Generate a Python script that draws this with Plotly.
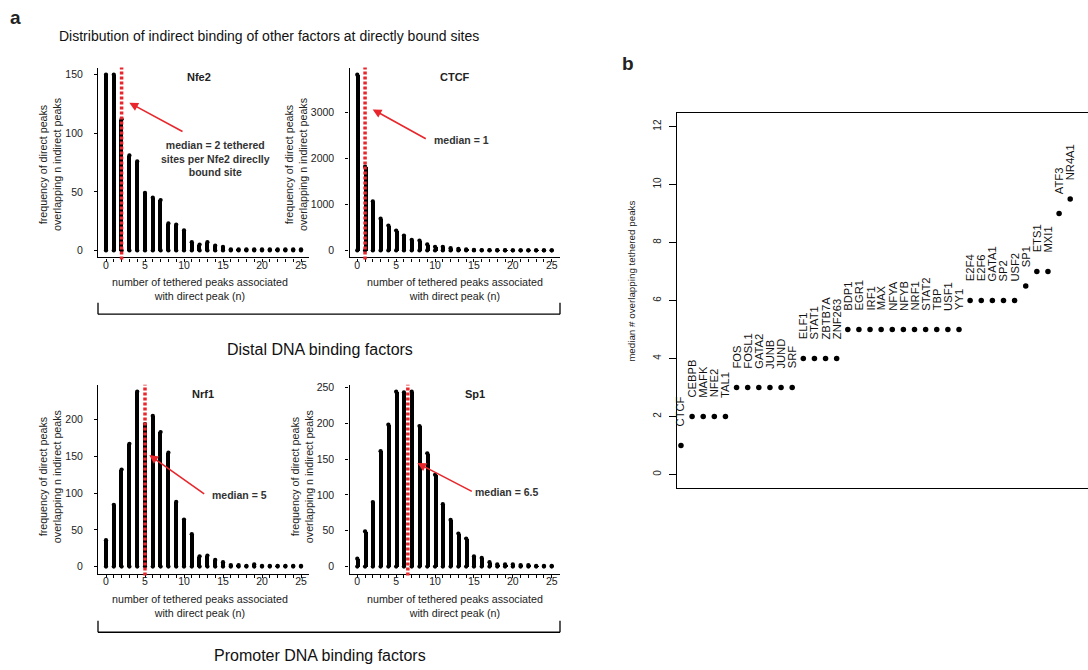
import plotly.graph_objects as go

W, H = 1088, 670
FONT = "Liberation Sans, Arial, Helvetica, sans-serif"
RED = "#e8262b"

# ---------------- data ----------------
n_tethered = list(range(26))
nfe2_freq = [150, 150, 112, 81, 76, 49, 45, 43, 23, 22, 17, 7, 5, 7, 4, 3, 1, 1, 1, 1, 1, 1, 1, 1, 1, 1]
ctcf_freq = [3830, 1825, 1067, 692, 541, 433, 325, 231, 216, 130, 79, 79, 50, 36, 22, 12, 8, 6, 5, 4, 3, 3, 2, 2, 2, 2]
nrf1_freq = [36, 84, 132, 167, 238, 194, 205, 183, 155, 88, 64, 44, 14, 15, 9, 6, 2, 2, 1, 3, 1, 1, 1, 1, 1, 1]
sp1_freq = [11, 49, 90, 161, 198, 244, 243, 244, 196, 158, 128, 87, 65, 46, 39, 14, 12, 6, 3, 3, 3, 2, 2, 1, 1, 1]
panel_names = ["Nfe2", "CTCF", "Nrf1", "Sp1"]
panel_medians = [2, 1, 5, 6.5]
median_texts = ["median = 2 tethered<br>sites per Nfe2 direclly<br>bound site", "median = 1", "median = 5", "median = 6.5"]

factors = ["CTCF", "CEBPB", "MAFK", "NFE2", "TAL1", "FOS", "FOSL1", "GATA2", "JUNB", "JUND", "SRF",
           "ELF1", "STAT1", "ZBTB7A", "ZNF263", "BDP1", "EGR1", "IRF1", "MAX", "NFYA", "NFYB", "NRF1",
           "STAT2", "TBP", "USF1", "YY1", "E2F4", "E2F6", "GATA1", "SP2", "USF2", "SP1", "ETS1", "MXI1",
           "ATF3", "NR4A1"]
factor_medians = [1, 2, 2, 2, 2, 3, 3, 3, 3, 3, 3, 4, 4, 4, 4, 5, 5, 5, 5, 5, 5, 5, 5, 5, 5, 5,
                  6, 6, 6, 6, 6, 6.5, 7, 7, 9, 9.5]

# ---------------- layout helpers ----------------
def xd(a, b):
    return [a / W, b / W]

def yd(top, bottom):
    return [1 - bottom / H, 1 - top / H]

def paper_text(px, py, text, size, color="#222", angle=0, xanchor="center", yanchor="middle", align="center"):
    fig.add_annotation(x=px / W, y=1 - py / H, xref="paper", yref="paper", text=text, textangle=angle,
                       showarrow=False, xanchor=xanchor, yanchor=yanchor, align=align,
                       font=dict(family=FONT, size=size, color=color))

fig = go.Figure()

series = [nfe2_freq, ctcf_freq, nrf1_freq, sp1_freq]
yranges = [[-6, 156], [-153, 3983], [-9.5, 247.5], [-9.8, 253.8]]
ytickvals = [[0, 50, 100, 150], [0, 1000, 2000, 3000], [0, 50, 100, 150, 200], [0, 50, 100, 150, 200, 250]]
xdoms = [xd(98.2, 308.8), xd(349.5, 559.5), xd(98.2, 308.8), xd(349.5, 559.5)]
ydoms = [yd(64, 255), yd(64, 255), yd(383, 573), yd(383, 573)]
title_pos = [0.479, 0.502, 0.499, 0.598]

for i, vals in enumerate(series):
    k = "" if i == 0 else str(i + 1)
    xa, ya = "x" + k, "y" + k
    fig.add_trace(go.Bar(x=n_tethered, y=vals, width=0.52, marker=dict(color="black", line=dict(width=0)),
                         xaxis=xa, yaxis=ya, showlegend=False, hoverinfo="skip"))
    fig.add_trace(go.Scatter(x=n_tethered + n_tethered, y=vals + [0] * len(vals), mode="markers",
                             marker=dict(color="black", size=4.3, line=dict(width=0)),
                             xaxis=xa, yaxis=ya, showlegend=False, hoverinfo="skip", cliponaxis=True))
    axis_common = dict(showgrid=False, zeroline=False, showline=True, linecolor="black", linewidth=1.4,
                       ticks="outside", ticklen=3, tickwidth=1, tickcolor="black",
                       tickfont=dict(family=FONT, size=10.5, color="#222"))
    fig.layout["xaxis" + k] = dict(axis_common, domain=xdoms[i], range=[-1, 26], anchor=ya,
                                   tickvals=[0, 5, 10, 15, 20, 25], ticklabelstandoff=-5,
                                   minor=dict(tickvals=n_tethered, ticks="outside", ticklen=3,
                                              tickwidth=1, tickcolor="black"))
    fig.layout["yaxis" + k] = dict(axis_common, domain=ydoms[i], range=yranges[i], anchor=xa,
                                   tickvals=ytickvals[i], ticklabelstandoff=9)
    # median line
    fig.add_shape(type="line", xref=xa, yref=ya + " domain", x0=panel_medians[i], x1=panel_medians[i],
                  y0=-0.01, y1=1, line=dict(color=RED, width=3.5, dash="3px,2px"), layer="above")
    # panel title
    fig.add_annotation(x=title_pos[i], xref=xa + " domain", y=1, yref=ya + " domain", yanchor="top",
                       xanchor="center", yshift=-1,
                       text="<b>%s</b>" % panel_names[i], showarrow=False,
                       font=dict(family=FONT, size=11, color="#222"))

# arrows and median texts (data coordinates)
arrows = [
    ("x", "y", 2.99, 126, 10.0, 100.8),
    ("x2", "y2", 1.98, 3072, 9.0, 2416),
    ("x3", "y3", 5.55, 151.9, 12.78, 97.6),
    ("x4", "y4", 7.72, 144.4, 14.92, 103.8),
]
for (xa, ya, hx, hy, tx, ty) in arrows:
    fig.add_annotation(x=hx, y=hy, xref=xa, yref=ya, ax=tx, ay=ty, axref=xa, ayref=ya, text="",
                       showarrow=True, arrowhead=2, arrowsize=1.1, arrowwidth=1.6, arrowcolor=RED,
                       standoff=0, startstandoff=0)

mfont = dict(family=FONT, size=10.5, color="#333")
fig.add_annotation(x=14.0, y=78.7, xref="x", yref="y", text="<b>" + median_texts[0] + "</b>", showarrow=False,
                   align="center", xanchor="center", yanchor="middle", font=mfont)
fig.add_annotation(x=9.55, y=2416, xref="x2", yref="y2", xanchor="left", yanchor="middle",
                   text="<b>" + median_texts[1] + "</b>", showarrow=False, font=mfont)
fig.add_annotation(x=13.33, y=97.6, xref="x3", yref="y3", xanchor="left", yanchor="middle",
                   text="<b>" + median_texts[2] + "</b>", showarrow=False, font=mfont)
fig.add_annotation(x=14.9, y=103.8, xref="x4", yref="y4", xanchor="left", yanchor="middle",
                   text="<b>" + median_texts[3] + "</b>", showarrow=False, font=mfont)

# axis titles (panel a)
ytitle = "frequency of direct peaks<br>overlapping n indirect peaks"
xtitle = "number of tethered peaks associated<br>with direct peak (n)"
for (px, py) in [(50, 162), (296, 162), (50, 476), (302, 476)]:
    paper_text(px, py, ytitle, 10.7, angle=-90)
for (px, py) in [(200, 286.5), (455, 286.5), (200, 606), (455, 606)]:
    paper_text(px, py, xtitle, 10.7)

# brackets
for (yb, label, ly) in [(312, "Distal DNA binding factors", 348), (632, "Promoter DNA binding factors", 655)]:
    for (x0, y0, x1, y1) in [(98, yb, 560, yb), (98, yb - 11.5, 98, yb), (560, yb - 11.5, 560, yb)]:
        fig.add_shape(type="line", xref="paper", yref="paper", x0=x0 / W, x1=x1 / W, y0=1 - y0 / H, y1=1 - y1 / H,
                      line=dict(color="black", width=1.3))
    paper_text(320, ly, label, 16, color="#111")

paper_text(269, 32, "Distribution of indirect binding of other factors at directly bound sites", 14, color="#111")
paper_text(15, 14, "<b>a</b>", 19)
paper_text(628, 60, "<b>b</b>", 19)

# ---------------- panel b ----------------
idx = list(range(1, len(factors) + 1))
fig.add_trace(go.Scatter(x=idx, y=factor_medians, mode="markers", xaxis="x5", yaxis="y5",
                         marker=dict(color="black", size=5.5, line=dict(width=0)), showlegend=False,
                         hoverinfo="skip"))
for xi, yi, name in zip(idx, factor_medians, factors):
    fig.add_annotation(x=xi, y=yi, xref="x5", yref="y5", text=name, textangle=-90, showarrow=False,
                       xanchor="center", yanchor="bottom", yshift=17,
                       font=dict(family=FONT, size=11.2, color="#111"))
fig.layout["xaxis5"] = dict(domain=[677.3 / W, 1.0], range=[0.67, 37.6], anchor="y5", showline=True, mirror=True,
                            linecolor="black", linewidth=1.4, showgrid=False, zeroline=False,
                            showticklabels=False, ticks="")
fig.layout["yaxis5"] = dict(domain=yd(109.3, 487.3), range=[-0.48, 12.48], anchor="x5", showline=True,
                            linecolor="black", linewidth=1.4, showgrid=False, zeroline=False,
                            tickvals=[0, 2, 4, 6, 8, 10, 12], ticks="outside", ticklen=7, tickwidth=1,
                            tickcolor="black", tickangle=-90, ticklabelstandoff=4,
                            tickfont=dict(family=FONT, size=10, color="#222"))
paper_text(631.5, 279, "median # overlapping tethered peaks", 9.8, angle=-90)

fig.update_layout(width=W, height=H, margin=dict(l=0, r=0, t=0, b=0), paper_bgcolor="white",
                  plot_bgcolor="white", bargap=0, showlegend=False)
fig.write_html("out.html")
